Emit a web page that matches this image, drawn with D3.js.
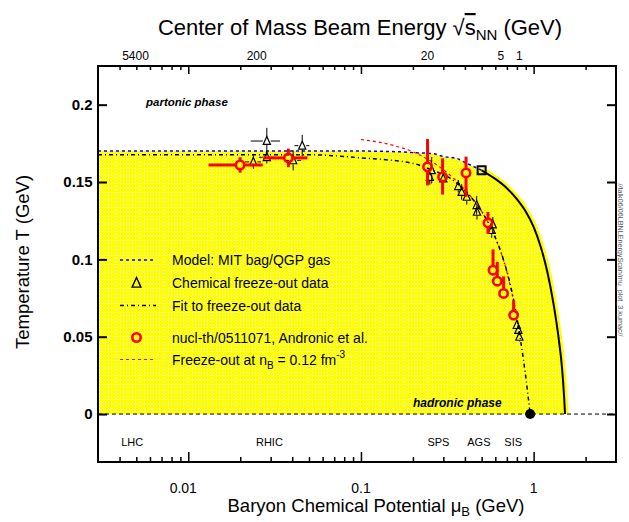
<!DOCTYPE html>
<html>
<head>
<meta charset="utf-8">
<script src="https://cdn.jsdelivr.net/npm/d3@7"></script>
<style>
  body { margin: 0; background: #fff; }
  svg { display: block; font-family: "Liberation Sans", Arial, sans-serif; }
</style>
</head>
<body>
<script>
// axis ticks and labels
const xMajor = [0.01, 0.1, 1];
const xMajorLabels = ["0.01", "0.1", "1"];
const yTicks = [0, 0.05, 0.1, 0.15, 0.2];
const yTickLabels = ["0", "0.05", "0.1", "0.15", "0.2"];
const topLabels = ["5400", "200", "20", "5", "1"];
const topLabelMu = [0.00495, 0.0249, 0.243, 0.647, 0.826];
const facilities = ["LHC", "RHIC", "SPS", "AGS", "SIS"];
const facilityMu = [0.00473, 0.0295, 0.281, 0.482, 0.762];

// MIT bag / QGP gas boundary (blue dashed part, then solid part)
const qgpMu = [0.003, 0.1, 0.17, 0.2, 0.26, 0.3, 0.36, 0.41, 0.44, 0.5];
const qgpT = [0.170, 0.170, 0.1695, 0.169, 0.1684, 0.1665, 0.1652, 0.162, 0.1605, 0.1576];
const bagMu = [0.5, 0.6, 0.7, 0.8, 0.9, 1.0, 1.1, 1.2, 1.3, 1.4, 1.46, 1.5, 1.52];
const bagT = [0.1576, 0.152, 0.146, 0.139, 0.131, 0.121, 0.108, 0.092, 0.072, 0.048, 0.030, 0.012, 0];

// fit to freeze-out data
const fitMu = [0.003, 0.05, 0.1, 0.2, 0.26, 0.33, 0.45, 0.52, 0.59, 0.67, 0.73, 0.77, 0.84, 0.895, 0.955];
const fitT = [0.1677, 0.1676, 0.1656, 0.162, 0.1576, 0.1523, 0.138, 0.128, 0.116, 0.0995, 0.0844, 0.0725, 0.0478, 0.0263, 0];

// freeze-out at nB = 0.12 fm^-3
const nbMu = [0.1, 0.15, 0.2, 0.25, 0.3, 0.4, 0.5, 0.6, 0.7, 0.77];
const nbT = [0.1775, 0.174, 0.1695, 0.164, 0.158, 0.145, 0.131, 0.114, 0.092, 0.072];

// chemical freeze-out data (triangles)
const triMu = [0.0238, 0.0285, 0.0285, 0.0405, 0.0457, 0.257, 0.2505, 0.2996, 0.366, 0.383, 0.41, 0.468, 0.47, 0.572, 0.58, 0.799, 0.816, 0.827];
const triT = [0.163, 0.1765, 0.166, 0.164, 0.1735, 0.1576, 0.1533, 0.1523, 0.1473, 0.1436, 0.1404, 0.135, 0.1307, 0.1189, 0.1225, 0.0575, 0.0543, 0.0499];
const triMuErr = [0.0026, 0.0055, 0.0028, 0.0045, 0.0045, 0.012, 0.008, 0.012, 0.008, 0.008, 0.008, 0.008, 0.008, 0.008, 0.008, 0.008, 0.008, 0.008];
const triTErr = [0.0045, 0.0085, 0.004, 0.0065, 0.007, 0.0086, 0.005, 0.006, 0.004, 0.005, 0.005, 0.006, 0.005, 0.005, 0.005, 0.003, 0.003, 0.003];

// Andronic et al. (red circles)
const andMu = [0.01995, 0.038, 0.243, 0.297, 0.406, 0.544, 0.582, 0.616, 0.67, 0.766];
const andT = [0.161, 0.1656, 0.1598, 0.1533, 0.1559, 0.1236, 0.093, 0.0859, 0.078, 0.064];
const andTUp = [0.005, 0.006, 0.018, 0.012, 0.0105, 0.007, 0.0134, 0.0125, 0.011, 0.0096];
const andTDn = [0.005, 0.006, 0.012, 0.0114, 0.0155, 0.007, 0, 0, 0, 0];
const andMuLo = [0.0131, 0.0272, 0.228, 0.297, 0.406, 0.544, 0.582, 0.616, 0.67, 0.766];
const andMuHi = [0.027, 0.049, 0.256, 0.297, 0.406, 0.544, 0.582, 0.616, 0.67, 0.766];

const sqMu = 0.5, sqT = 0.1576;   // end of blue line
const dotMu = 0.955, dotT = 0;    // end of fit

const w = 629, h = 522;
const mLeft = 98, mRight = 616, mTop = 66, mBottom = 462;

const x = d3.scaleLog().domain([0.003, 3]).range([mLeft, mRight]);
const y = d3.scaleLinear().domain([-0.031, 0.225]).range([mBottom, mTop]);

const svg = d3.select("body").append("svg")
  .attr("width", w)
  .attr("height", h);

svg.append("rect").attr("width", w).attr("height", h).attr("fill", "#fff");

const pat = svg.append("defs").append("pattern")
  .attr("id", "dots")
  .attr("width", 3).attr("height", 3)
  .attr("patternUnits", "userSpaceOnUse");
pat.append("rect").attr("width", 3).attr("height", 3).attr("fill", "#ffff00");
pat.append("rect").attr("width", 1).attr("height", 1).attr("fill", "#ffffff");

const pts = (a, b) => a.map((m, i) => [m, b[i]]);
const line = d3.line().x(d => x(d[0])).y(d => y(d[1])).curve(d3.curveMonotoneX);

// yellow phase region
const boundary = pts(qgpMu, qgpT).concat(pts(bagMu, bagT).slice(1));
svg.append("path")
  .attr("d", d3.area().x(d => x(d[0])).y0(y(0)).y1(d => y(d[1])).curve(d3.curveMonotoneX)(boundary))
  .attr("fill", "url(#dots)");
svg.append("path")
  .attr("d", line(pts(bagMu, bagT)))
  .attr("fill", "none").attr("stroke", "#ffff00").attr("stroke-width", 7);

// T = 0 line
svg.append("line")
  .attr("x1", mLeft).attr("x2", mRight).attr("y1", y(0)).attr("y2", y(0))
  .attr("stroke", "#000").attr("stroke-width", 1).attr("stroke-dasharray", "4,3");

svg.append("path").attr("d", line(pts(qgpMu, qgpT)))
  .attr("fill", "none").attr("stroke", "#0000ff").attr("stroke-width", 1.5).attr("stroke-dasharray", "3,3");
svg.append("path").attr("d", line(pts(nbMu, nbT)))
  .attr("fill", "none").attr("stroke", "#ff0000").attr("stroke-width", 1.2).attr("stroke-dasharray", "3,3");
svg.append("path").attr("d", line(pts(fitMu, fitT)))
  .attr("fill", "none").attr("stroke", "#000").attr("stroke-width", 1.5).attr("stroke-dasharray", "4,3,1,3");
svg.append("path").attr("d", line(pts(bagMu, bagT)))
  .attr("fill", "none").attr("stroke", "#000").attr("stroke-width", 2);

svg.append("rect")
  .attr("x", x(sqMu) - 4).attr("y", y(sqT) - 4).attr("width", 8).attr("height", 8)
  .attr("fill", "none").attr("stroke", "#000").attr("stroke-width", 2);
svg.append("circle").attr("cx", x(dotMu)).attr("cy", y(dotT)).attr("r", 5).attr("fill", "#000");

// error bar helper, leaves a gap of r around the marker
function errBar(g, cx, cy, x0, x1, y0, y1, r, color, sw) {
  const segs = [];
  if (cx - x0 > r) segs.push([x0, cy, cx - r, cy]);
  if (x1 - cx > r) segs.push([cx + r, cy, x1, cy]);
  if (y0 - cy > r) segs.push([cx, cy + r, cx, y0]);
  if (cy - y1 > r) segs.push([cx, y1, cx, cy - r]);
  segs.forEach(s => g.append("line")
    .attr("x1", s[0]).attr("y1", s[1]).attr("x2", s[2]).attr("y2", s[3])
    .attr("stroke", color).attr("stroke-width", sw));
}

const triPath = (cx, cy, s) =>
  "M" + cx + "," + (cy - s) + "L" + (cx - s * 0.8) + "," + (cy + s * 0.75) +
  "L" + (cx + s * 0.8) + "," + (cy + s * 0.75) + "Z";

const gTri = svg.append("g");
triMu.forEach((m, i) => {
  const cx = x(m), cy = y(triT[i]);
  errBar(gTri, cx, cy, x(m - triMuErr[i]), x(m + triMuErr[i]),
    y(triT[i] - triTErr[i]), y(triT[i] + triTErr[i]), 4, "#000", 1);
  gTri.append("path").attr("d", triPath(cx, cy, 4.5))
    .attr("fill", "none").attr("stroke", "#000").attr("stroke-width", 1.2);
});

const gAnd = svg.append("g");
andMu.forEach((m, i) => {
  const cx = x(m), cy = y(andT[i]);
  errBar(gAnd, cx, cy, x(andMuLo[i]), x(andMuHi[i]),
    y(andT[i] - andTDn[i]), y(andT[i] + andTUp[i]), 5, "#ff0000", 3);
  gAnd.append("circle").attr("cx", cx).attr("cy", cy).attr("r", 4.2)
    .attr("fill", "none").attr("stroke", "#ff0000").attr("stroke-width", 2.6);
});

// legend
const leg = svg.append("g").attr("font-size", 14);
const legY = [260, 282.5, 305.5, 337.5, 359.5];
leg.append("line").attr("x1", 120).attr("x2", 156).attr("y1", legY[0]).attr("y2", legY[0])
  .attr("stroke", "#0000ff").attr("stroke-width", 1.5).attr("stroke-dasharray", "3,3");
leg.append("path").attr("d", triPath(136.5, legY[1] + 0.5, 5.5))
  .attr("fill", "none").attr("stroke", "#000").attr("stroke-width", 1.4);
leg.append("line").attr("x1", 120).attr("x2", 156).attr("y1", legY[2]).attr("y2", legY[2])
  .attr("stroke", "#000").attr("stroke-width", 1.5).attr("stroke-dasharray", "4,3,1,3");
leg.append("circle").attr("cx", 136.5).attr("cy", legY[3]).attr("r", 4.2)
  .attr("fill", "none").attr("stroke", "#ff0000").attr("stroke-width", 2.6);
leg.append("line").attr("x1", 120).attr("x2", 156).attr("y1", legY[4]).attr("y2", legY[4])
  .attr("stroke", "#ff0000").attr("stroke-width", 1.2).attr("stroke-dasharray", "3,3");

const legText = ["Model: MIT bag/QGP gas", "Chemical freeze-out data", "Fit to freeze-out data",
  "nucl-th/0511071, Andronic et al."];
legText.forEach((t, i) => {
  leg.append("text").attr("x", 172).attr("y", legY[i] + 5).text(t);
});
const lt = leg.append("text").attr("x", 172).attr("y", legY[4] + 5);
lt.append("tspan").text("Freeze-out at n");
lt.append("tspan").attr("font-size", 10).attr("dy", 4).text("B");
lt.append("tspan").attr("dy", -4).text(" = 0.12 fm");
lt.append("tspan").attr("font-size", 10).attr("dy", -7).text("-3");

// phase labels
svg.append("text").attr("x", 146).attr("y", 105.5)
  .attr("font-size", 11.5).attr("font-weight", "bold").attr("font-style", "italic")
  .text("partonic phase");
svg.append("text").attr("x", 413).attr("y", 407)
  .attr("font-size", 12).attr("font-weight", "bold").attr("font-style", "italic")
  .text("hadronic phase");

// facilities
svg.append("g").selectAll("text").data(facilities).enter().append("text")
  .attr("x", (d, i) => x(facilityMu[i])).attr("y", 446)
  .attr("text-anchor", "middle").attr("font-size", 11)
  .text(d => d);

// frame
svg.append("rect")
  .attr("x", mLeft).attr("y", mTop).attr("width", mRight - mLeft).attr("height", mBottom - mTop)
  .attr("fill", "none").attr("stroke", "#000").attr("stroke-width", 2);

// x ticks (bottom and top)
const xMinor = [];
[0.001, 0.01, 0.1, 1].forEach(d => {
  for (let k = 2; k <= 9; k++) {
    const v = k * d;
    if (v > 0.003 && v < 3) xMinor.push(v);
  }
});
function ticks(axis, tv, size, ty) {
  const g = svg.append("g").attr("transform", "translate(0," + ty + ")")
    .call(axis(x).tickValues(tv).tickSize(size).tickFormat(""));
  g.select(".domain").remove();
  g.selectAll(".tick line").attr("stroke", "#000").attr("stroke-width", 1.5);
}
ticks(d3.axisBottom, xMajor, -10, mBottom);
ticks(d3.axisBottom, xMinor, -5, mBottom);
ticks(d3.axisTop, xMajor, -8, mTop);
ticks(d3.axisTop, xMinor, -4, mTop);

svg.append("g").selectAll("text").data(xMajorLabels).enter().append("text")
  .attr("x", (d, i) => x(xMajor[i]) - (i === 0 ? 5 : 0)).attr("y", 493)
  .attr("text-anchor", "middle").attr("font-size", 14)
  .text(d => d);

svg.append("g").selectAll("text").data(topLabels).enter().append("text")
  .attr("x", (d, i) => x(topLabelMu[i])).attr("y", 60)
  .attr("text-anchor", "middle").attr("font-size", 12)
  .text(d => d);

// y ticks (left and right)
const yl = svg.append("g").attr("transform", "translate(" + mLeft + ",0)")
  .call(d3.axisLeft(y).tickValues(yTicks).tickSize(-9).tickFormat(""));
yl.select(".domain").remove();
yl.selectAll(".tick line").attr("stroke", "#000").attr("stroke-width", 2);
const yr = svg.append("g").attr("transform", "translate(" + mRight + ",0)")
  .call(d3.axisRight(y).tickValues(yTicks).tickSize(-9).tickFormat(""));
yr.select(".domain").remove();
yr.selectAll(".tick line").attr("stroke", "#000").attr("stroke-width", 2);

svg.append("g").selectAll("text").data(yTickLabels).enter().append("text")
  .attr("x", 92.5).attr("y", (d, i) => y(yTicks[i]) + 5.3)
  .attr("text-anchor", "end").attr("font-size", 15).attr("font-weight", "bold")
  .text(d => d);

// titles
const tt = svg.append("text").attr("x", 360).attr("y", 35)
  .attr("text-anchor", "middle").attr("font-size", 22);
tt.append("tspan").text("Center of Mass Beam Energy √");
tt.append("tspan").attr("text-decoration", "overline").text("s");
tt.append("tspan").attr("font-size", 15).attr("dy", 5).text("NN");
tt.append("tspan").attr("dy", -5).text(" (GeV)");

const bt = svg.append("text").attr("x", 376).attr("y", 512)
  .attr("text-anchor", "middle").attr("font-size", 18.5);
bt.append("tspan").text("Baryon Chemical Potential μ");
bt.append("tspan").attr("font-size", 13).attr("dy", 4).text("B");
bt.append("tspan").attr("dy", -4).text(" (GeV)");

svg.append("text")
  .attr("transform", "translate(29,262) rotate(-90)")
  .attr("text-anchor", "middle").attr("font-size", 18.5)
  .text("Temperature T (GeV)");

svg.append("text")
  .attr("transform", "translate(618,260) rotate(90)")
  .attr("text-anchor", "middle").attr("font-size", 7.2).attr("fill", "#555")
  .text("//talk06/06LBNLEnergyScan/mu_plot_3.kumac//");
</script>
</body>
</html>
